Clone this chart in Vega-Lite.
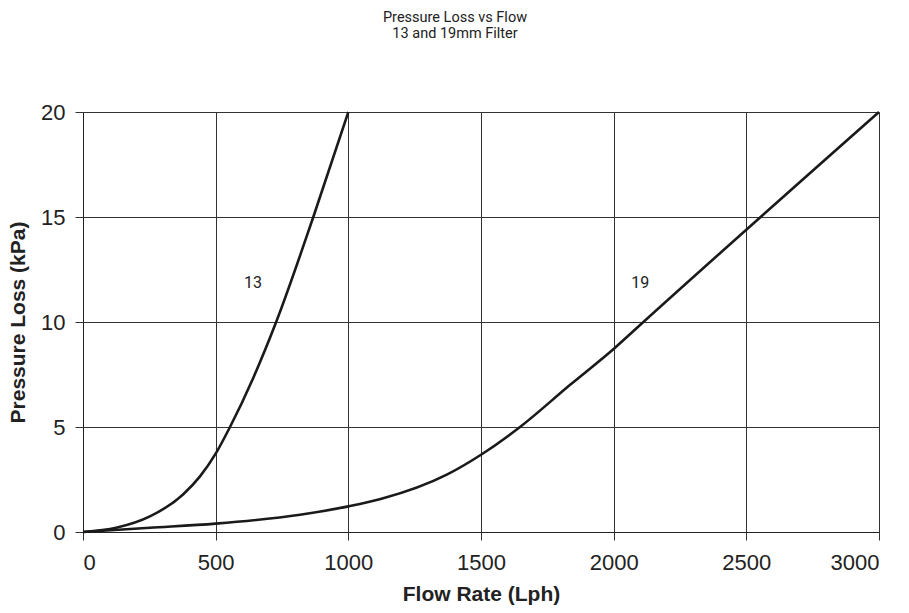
{
  "$schema": "https://vega.github.io/schema/vega-lite/v6.json",
  "autosize": "none",
  "width": 796,
  "height": 420,
  "padding": {"left": 83, "top": 112, "right": 30, "bottom": 81},
  "background": "white",
  "title": {
    "text": ["Pressure Loss vs Flow", "13 and 19mm Filter"],
    "font": "Roboto",
    "fontSize": 14.5,
    "fontWeight": "normal",
    "color": "#222",
    "anchor": "middle",
    "dx": -26,
    "offset": 60,
    "lineHeight": 16
  },
  "config": {
    "view": {"stroke": null},
    "axis": {
      "labelFont": "Liberation Sans",
      "labelFontSize": 22,
      "labelColor": "#222",
      "titleFont": "Liberation Sans",
      "titleFontSize": 21,
      "titleFontWeight": "bold",
      "titleColor": "#222",
      "gridColor": "#333",
      "gridOpacity": 1,
      "gridWidth": 1,
      "domainColor": "#222",
      "tickColor": "#333",
      "tickSize": 8
    }
  },
  "datasets": {
    "curves": [
      {"flow": 0, "loss": 0, "size": "13"},
      {"flow": 125, "loss": 0.2, "size": "13"},
      {"flow": 252, "loss": 0.74, "size": "13"},
      {"flow": 378, "loss": 1.8, "size": "13"},
      {"flow": 441, "loss": 2.65, "size": "13"},
      {"flow": 500, "loss": 3.73, "size": "13"},
      {"flow": 554, "loss": 5, "size": "13"},
      {"flow": 642, "loss": 7.35, "size": "13"},
      {"flow": 728, "loss": 10, "size": "13"},
      {"flow": 868, "loss": 15, "size": "13"},
      {"flow": 1000, "loss": 20, "size": "13"},
      {"flow": 0, "loss": 0, "size": "19"},
      {"flow": 252, "loss": 0.2, "size": "19"},
      {"flow": 500, "loss": 0.4, "size": "19"},
      {"flow": 818, "loss": 0.82, "size": "19"},
      {"flow": 1000, "loss": 1.22, "size": "19"},
      {"flow": 1125, "loss": 1.58, "size": "19"},
      {"flow": 1371, "loss": 2.73, "size": "19"},
      {"flow": 1500, "loss": 3.68, "size": "19"},
      {"flow": 1647, "loss": 5, "size": "19"},
      {"flow": 1836, "loss": 7.01, "size": "19"},
      {"flow": 2002, "loss": 8.74, "size": "19"},
      {"flow": 2112, "loss": 10, "size": "19"},
      {"flow": 3000, "loss": 20, "size": "19"}
    ],
    "labels": [
      {"flow": 641, "loss": 11.85, "text": "13"},
      {"flow": 2100, "loss": 11.85, "text": "19"}
    ]
  },
  "layer": [
    {
      "data": {"name": "curves"},
      "mark": {"type": "line", "color": "#1a1a1a", "strokeWidth": 2.6, "interpolate": "monotone"},
      "encoding": {
        "x": {"field": "flow", "type": "quantitative", "scale": {"domain": [0, 3000], "nice": false},
          "axis": {"title": "Flow Rate (Lph)", "values": [0, 500, 1000, 1500, 2000, 2500, 3000], "format": "d", "labelPadding": 12, "titlePadding": 10}},
        "y": {"field": "loss", "type": "quantitative", "scale": {"domain": [0, 20], "nice": false},
          "axis": {"title": "Pressure Loss (kPa)", "values": [0, 5, 10, 15, 20], "labelPadding": 10, "titlePadding": 12}},
        "detail": {"field": "size"}
      }
    },
    {
      "data": {"name": "labels"},
      "mark": {"type": "text", "font": "Roboto", "fontSize": 16, "color": "#222"},
      "encoding": {
        "x": {"field": "flow", "type": "quantitative"},
        "y": {"field": "loss", "type": "quantitative"},
        "text": {"field": "text"}
      }
    }
  ]
}
